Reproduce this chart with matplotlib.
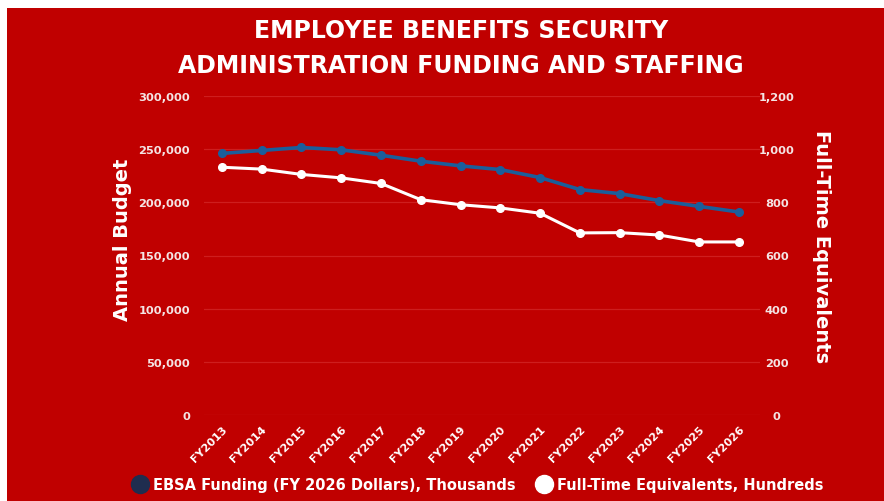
import matplotlib
matplotlib.use("Agg")
import matplotlib.pyplot as plt
from matplotlib.patches import Rectangle
from matplotlib.lines import Line2D
from matplotlib.ticker import FuncFormatter

years = ["FY2013", "FY2014", "FY2015", "FY2016", "FY2017", "FY2018", "FY2019",
         "FY2020", "FY2021", "FY2022", "FY2023", "FY2024", "FY2025", "FY2026"]
funding = [246000, 248800, 251600, 249400, 244300, 238700, 234300,
           230800, 223300, 212000, 208200, 201600, 196200, 190900]
fte = [932, 925, 905, 892, 871, 810, 791, 779, 759, 685, 686, 677, 651, 651]

RED = "#C00000"
BLUE = "#1B5E9B"
NAVY = "#1F2D4F"
FONT = "DejaVu Sans"

W, H = 884, 502
fig = plt.figure(figsize=(W / 100, H / 100), dpi=100)
fig.patch.set_facecolor("white")
fig.add_artist(Rectangle((7 / W, 0), 1 - 7 / W, 1 - 9 / H, transform=fig.transFigure,
                         facecolor=RED, edgecolor="none", zorder=0))

ax = fig.add_axes([204 / W, 1 - 416 / H, (760 - 204) / W, (416 - 97) / H])
ax.set_facecolor("none")
ax2 = ax.twinx()
ax2.set_facecolor("none")

x = list(range(len(years)))
ax.plot(x, funding, color=BLUE, lw=2.6, marker="o", ms=5.5, zorder=3)
ax2.plot(x, fte, color="white", lw=2.2, marker="o", ms=5.5, zorder=3)

ax.set_xlim(-0.45, len(years) - 0.47)
ax.set_ylim(0, 300000)
ax2.set_ylim(0, 1200)
ax.set_yticks(range(0, 300001, 50000))
ax2.set_yticks(range(0, 1201, 200))
ax.yaxis.set_major_formatter(FuncFormatter(lambda v, p: f"{int(v):,}"))
ax2.yaxis.set_major_formatter(FuncFormatter(lambda v, p: f"{int(v):,}"))
ax.grid(axis="y", color="#CE1E1E", lw=0.9)
ax.set_axisbelow(True)

for a in (ax, ax2):
    for s in a.spines.values():
        s.set_visible(False)
    a.tick_params(length=0)

ax.set_xticks(x)
ax.set_xticklabels(years, rotation=45, ha="right", va="top", rotation_mode="anchor",
                   fontsize=8, fontweight="bold", color="white", family=FONT)
ax.tick_params(axis="x", pad=6)
for lab in ax.get_yticklabels():
    lab.set_fontsize(8.2); lab.set_fontweight("bold"); lab.set_color("#F4E4E4"); lab.set_family(FONT)
ax.tick_params(axis="y", pad=10)
for lab in ax2.get_yticklabels():
    lab.set_fontsize(8.2); lab.set_fontweight("bold"); lab.set_color("#F4E4E4"); lab.set_family(FONT)
    lab.set_horizontalalignment("center")
ax2.tick_params(axis="y", pad=12)

fig.text(122 / W, 1 - 240 / H, "Annual Budget", rotation=90, ha="center", va="center",
         fontsize=14, fontweight="bold", color="white", family=FONT)
fig.text(822 / W, 1 - 247 / H, "Full-Time Equivalents", rotation=270, ha="center", va="center",
         fontsize=14, fontweight="bold", color="white", family=FONT)

fig.text(461 / W, 1 - 31 / H, "EMPLOYEE BENEFITS SECURITY", ha="center", va="center",
         fontsize=17, fontweight="bold", color="white", family=FONT)
fig.text(461 / W, 1 - 66 / H, "ADMINISTRATION FUNDING AND STAFFING", ha="center", va="center",
         fontsize=17, fontweight="bold", color="white", family=FONT)

handles = [Line2D([], [], ls="none", marker="o", ms=13, color=NAVY),
           Line2D([], [], ls="none", marker="o", ms=13, color="white")]
labels = ["EBSA Funding (FY 2026 Dollars), Thousands", "Full-Time Equivalents, Hundreds"]
fig.legend(handles, labels, loc="center", bbox_to_anchor=(478 / W, 1 - 486 / H), ncol=2,
           frameon=False, handletextpad=0.4, columnspacing=1.4, handlelength=1.0,
           prop={"family": FONT, "weight": "bold", "size": 10.5}, labelcolor="white")

fig.savefig("out.png", dpi=100, facecolor=fig.get_facecolor())
